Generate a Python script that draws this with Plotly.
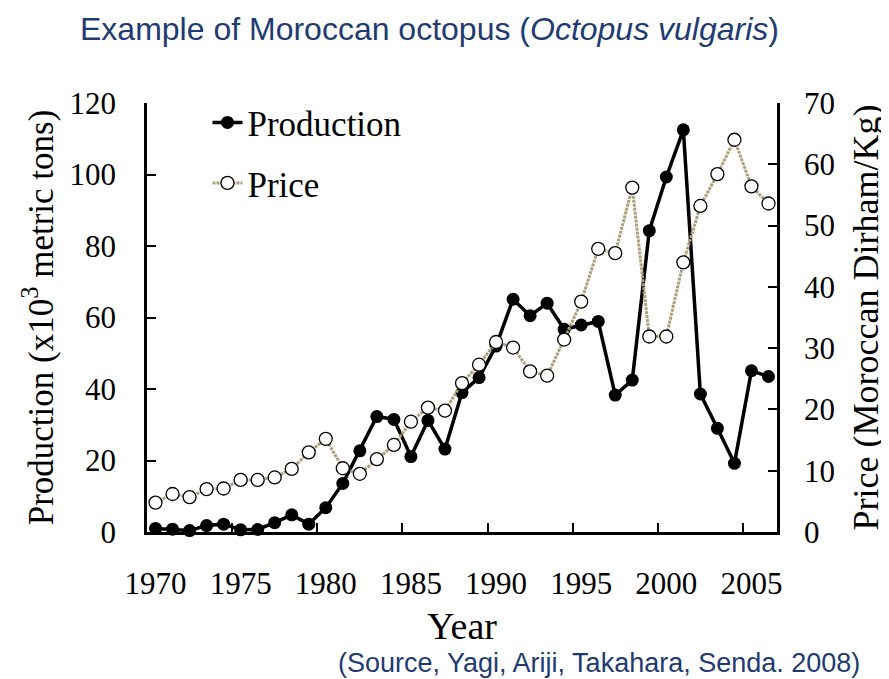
import plotly.graph_objects as go

years = list(range(1970, 2007))

production = [1.0, 0.8, 0.4, 1.8, 2.2, 0.6, 0.7, 2.6, 4.8, 2.2,
              6.8, 13.6, 22.7, 32.3, 31.5, 21.1, 31.2, 23.2, 39.0, 43.2,
              52.0, 65.1, 60.5, 64.0, 56.7, 57.9, 58.9, 38.3, 42.5, 84.3,
              99.3, 112.5, 38.6, 29.0, 19.2, 45.1, 43.5]

price = [4.8, 6.2, 5.7, 7.0, 7.1, 8.5, 8.5, 8.9, 10.3, 13.0,
         15.2, 10.4, 9.5, 11.9, 14.2, 18.0, 20.3, 19.8, 24.3, 27.3,
         31.0, 30.1, 26.2, 25.5, 31.4, 37.6, 46.2, 45.5, 56.2, 31.9,
         31.9, 44.0, 53.2, 58.4, 64.0, 56.4, 53.6]

year_labels = [1970, 1975, 1980, 1985, 1990, 1995, 2000, 2005]

serif = "Liberation Serif, Times New Roman, serif"
sans = "Liberation Sans, Arial, sans-serif"
blue = "#1f3b73"

W, H = 889, 679

fig = go.Figure()

fig.add_trace(go.Scatter(
    x=years, y=production, name="Production", mode="lines+markers",
    line=dict(color="black", width=3.5),
    marker=dict(color="black", size=13),
    cliponaxis=False, legendgroup="a",
))

fig.add_trace(go.Scatter(
    x=years, y=price, name="Price", mode="lines+markers", yaxis="y2",
    line=dict(color="#aca07a", width=3, dash="3px,1px"),
    marker=dict(color="white", size=13, line=dict(color="black", width=1.3)),
    cliponaxis=False, legendgroup="b",
))

fig.update_layout(
    width=W, height=H,
    margin=dict(l=139, r=W - 139 - 630, t=95, b=H - 95 - 429),
    plot_bgcolor="white", paper_bgcolor="white",
    font=dict(family=serif, size=30, color="black"),
    title=dict(
        text="Example of Moroccan octopus (<i>Octopus vulgaris</i>)",
        font=dict(family=sans, size=32, color=blue),
        xref="container", yref="container",
        x=72 / W, xanchor="left", y=1 - 21 / H, yanchor="middle",
        automargin=False,
    ),
    showlegend=True,
    legend=dict(
        x=0.096, y=1.023, xanchor="left", yanchor="top",
        bgcolor="rgba(0,0,0,0)", font=dict(family=serif, size=35),
        traceorder="grouped", tracegroupgap=12,
    ),
    xaxis=dict(
        range=[1969.5, 2006.5], automargin=False,
        tickvals=year_labels, ticks="",
        ticklabelstandoff=22,
        tickfont=dict(family=serif, size=31),
        showline=True, linecolor="black", linewidth=2.5,
        showgrid=False, zeroline=False,
        minor=dict(tickvals=[y - 0.5 for y in year_labels[1:]],
                   ticks="inside", ticklen=9, tickwidth=2, tickcolor="black",
                   showgrid=False),
        title=dict(text="Year", font=dict(family=serif, size=38), standoff=13),
    ),
    yaxis=dict(
        range=[0, 120], dtick=20, automargin=False,
        ticks="inside", ticklen=9, tickwidth=2, tickcolor="black",
        ticklabelstandoff=22,
        tickfont=dict(family=serif, size=31),
        showline=True, linecolor="black", linewidth=2.5,
        showgrid=False, zeroline=False,
        title=dict(text="Production (x10<sup>3</sup> metric tons)",
                   font=dict(family=serif, size=35), standoff=6),
    ),
    yaxis2=dict(
        range=[0, 70], dtick=10, overlaying="y", side="right", automargin=False,
        ticks="inside", ticklen=9, tickwidth=2, tickcolor="black",
        ticklabelstandoff=18,
        tickfont=dict(family=serif, size=31),
        showline=True, linecolor="black", linewidth=2.5,
        showgrid=False, zeroline=False,
        title=dict(text="Price (Moroccan Dirham/Kg)",
                   font=dict(family=serif, size=36), standoff=19),
    ),
)

fig.add_annotation(
    text="(Source, Yagi, Ariji, Takahara, Senda. 2008)",
    xref="paper", yref="paper", x=(862 - 147) / 630, y=(532 - 663) / 429,
    xanchor="right", yanchor="middle", showarrow=False,
    font=dict(family=sans, size=27, color=blue),
)

fig.write_html("out.html")
